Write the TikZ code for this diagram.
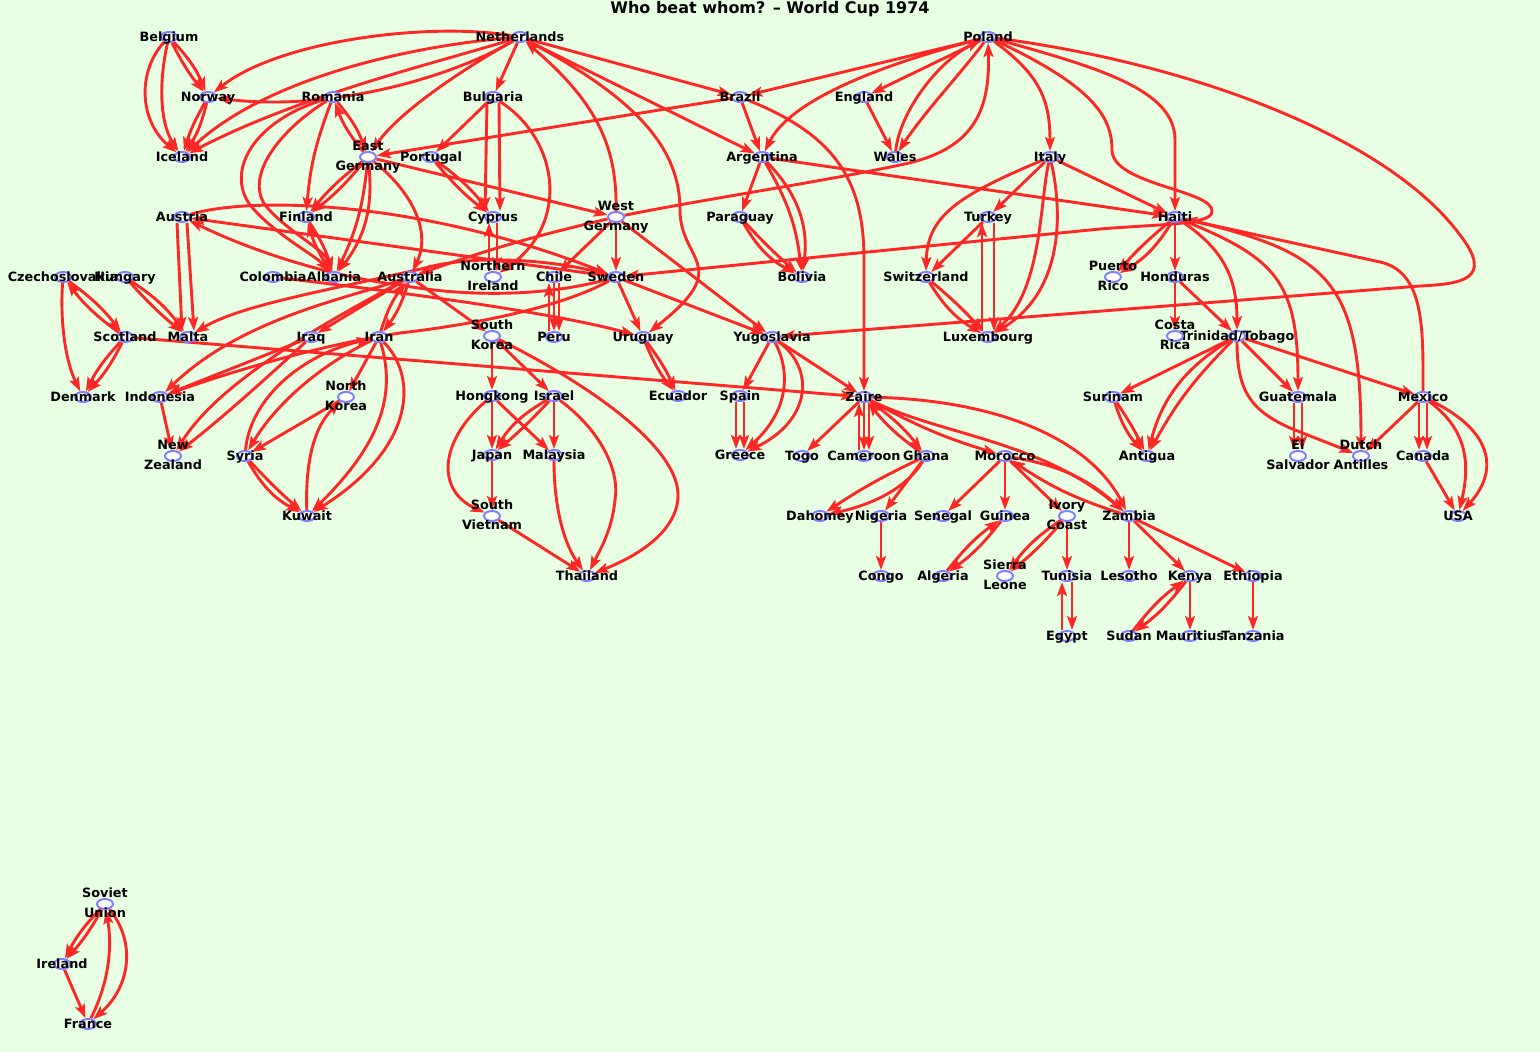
\documentclass[tikz,border=0pt]{standalone}
\usepackage{fontspec}
\setmainfont{DejaVu Sans}
\usetikzlibrary{shapes.geometric,arrows.meta}
\pgfdeclarelayer{bgl}
\pgfdeclarelayer{edges}
\pgfsetlayers{bgl,edges,main}
\definecolor{bgc}{RGB}{232,255,228}
\definecolor{ered}{RGB}{255,38,38}
\definecolor{nblue}{RGB}{128,128,255}
\newcommand\mkn[4]{\node[cnode] (#1) at (#2,#3) {}; \node[lbl] (#1l) at (#2,#3) {#4};}
\newcommand\mknn[5]{\node[cnode] (#1) at (#2,#3) {}; \node[lbl] (#1a) at (#2,{#3-11}) {#4}; \node[lbl] (#1b) at (#2,{#3+9}) {#5};}
\begin{document}
\begin{tikzpicture}[x=1pt,y=-1pt,
 cnode/.style={ellipse,draw=nblue,line width=2pt,fill=white,minimum width=16pt,minimum height=10pt,inner sep=0pt},
 lbl/.style={font=\bfseries\fontsize{12.8}{14}\selectfont,inner sep=0pt,text height=9.4pt,text depth=0pt},
 e/.style={draw=ered,line width=2.9pt,-{Stealth[length=14pt,width=10pt,inset=3pt]}}]
\useasboundingbox (0,0) rectangle (1540,1052);
\begin{pgfonlayer}{bgl}
\fill[bgc] (0,0) rectangle (1540,1052);
\end{pgfonlayer}
\node[font=\bfseries\fontsize{16}{18}\selectfont,inner sep=0pt] (title) at (770,9) {Who beat whom? – World Cup 1974};
% nodes
\mkn{Belgium}{169}{37}{Belgium}
\mkn{Netherlands}{520}{37}{Netherlands}
\mkn{Poland}{988}{37}{Poland}
\mkn{Norway}{208}{97}{Norway}
\mkn{Romania}{333}{97}{Romania}
\mkn{Bulgaria}{493}{97}{Bulgaria}
\mkn{Brazil}{740}{97}{Brazil}
\mkn{England}{864}{97}{England}
\mkn{Iceland}{182}{157}{Iceland}
\mknn{EastGermany}{368}{157}{East}{Germany}
\mkn{Portugal}{431}{157}{Portugal}
\mkn{Argentina}{762}{157}{Argentina}
\mkn{Wales}{895}{157}{Wales}
\mkn{Italy}{1050}{157}{Italy}
\mkn{Austria}{182}{217}{Austria}
\mkn{Finland}{306}{217}{Finland}
\mkn{Cyprus}{493}{217}{Cyprus}
\mknn{WestGermany}{616}{217}{West}{Germany}
\mkn{Paraguay}{740}{217}{Paraguay}
\mkn{Turkey}{988}{217}{Turkey}
\mkn{Haiti}{1175}{217}{Haiti}
\mkn{Czechoslovakia}{63}{277}{Czechoslovakia}
\mkn{Hungary}{125}{277}{Hungary}
\mkn{Colombia}{273}{277}{Colombia}
\mkn{Albania}{334}{277}{Albania}
\mkn{Australia}{410}{277}{Australia}
\mknn{NIreland}{493}{277}{Northern}{Ireland}
\mkn{Chile}{554}{277}{Chile}
\mkn{Sweden}{616}{277}{Sweden}
\mkn{Bolivia}{802}{277}{Bolivia}
\mkn{Switzerland}{926}{277}{Switzerland}
\mknn{PuertoRico}{1113}{277}{Puerto}{Rico}
\mkn{Honduras}{1175}{277}{Honduras}
\mkn{Scotland}{125}{337}{Scotland}
\mkn{Malta}{188}{337}{Malta}
\mkn{Iraq}{311}{337}{Iraq}
\mkn{Iran}{379}{337}{Iran}
\mknn{SouthKorea}{492}{336}{South}{Korea}
\mkn{Peru}{554}{337}{Peru}
\mkn{Uruguay}{643}{337}{Uruguay}
\mkn{Yugoslavia}{772}{337}{Yugoslavia}
\mkn{Luxembourg}{988}{337}{Luxembourg}
\mkn{TT}{1237}{336}{Trinidad/Tobago}
\mknn{CostaRica}{1175}{336}{Costa}{Rica}
\mkn{Denmark}{83}{397}{Denmark}
\mkn{Indonesia}{160}{397}{Indonesia}
\mknn{NorthKorea}{346}{397}{North}{Korea}
\mkn{Hongkong}{492}{396}{Hongkong}
\mkn{Israel}{554}{396}{Israel}
\mkn{Ecuador}{678}{396}{Ecuador}
\mkn{Spain}{740}{396}{Spain}
\mkn{Zaire}{864}{397}{Zaire}
\mkn{Surinam}{1113}{397}{Surinam}
\mkn{Guatemala}{1298}{397}{Guatemala}
\mkn{Mexico}{1423}{397}{Mexico}
\mknn{NewZealand}{173}{456}{New}{Zealand}
\mkn{Syria}{245}{456}{Syria}
\mkn{Japan}{492}{455}{Japan}
\mkn{Malaysia}{554}{455}{Malaysia}
\mkn{Greece}{740}{455}{Greece}
\mkn{Togo}{802}{456}{Togo}
\mkn{Cameroon}{864}{456}{Cameroon}
\mkn{Ghana}{926}{456}{Ghana}
\mkn{Morocco}{1005}{456}{Morocco}
\mkn{Antigua}{1147}{456}{Antigua}
\mknn{ElSalvador}{1298}{456}{El}{Salvador}
\mknn{DutchAntilles}{1361}{456}{Dutch}{Antilles}
\mkn{Canada}{1423}{456}{Canada}
\mkn{Kuwait}{307}{516}{Kuwait}
\mknn{SouthVietnam}{492}{516}{South}{Vietnam}
\mkn{Dahomey}{820}{516}{Dahomey}
\mkn{Nigeria}{881}{516}{Nigeria}
\mkn{Senegal}{943}{516}{Senegal}
\mkn{Guinea}{1005}{516}{Guinea}
\mknn{IvoryCoast}{1067}{516}{Ivory}{Coast}
\mkn{Zambia}{1129}{516}{Zambia}
\mkn{USA}{1458}{516}{USA}
\mkn{Thailand}{587}{576}{Thailand}
\mkn{Congo}{881}{576}{Congo}
\mkn{Algeria}{943}{576}{Algeria}
\mknn{SierraLeone}{1005}{576}{Sierra}{Leone}
\mkn{Tunisia}{1067}{576}{Tunisia}
\mkn{Lesotho}{1129}{576}{Lesotho}
\mkn{Kenya}{1190}{576}{Kenya}
\mkn{Ethiopia}{1253}{576}{Ethiopia}
\mkn{Egypt}{1067}{636}{Egypt}
\mkn{Sudan}{1129}{636}{Sudan}
\mkn{Mauritius}{1190}{636}{Mauritius}
\mkn{Tanzania}{1253}{636}{Tanzania}
\mknn{SovietUnion}{105}{904}{Soviet}{Union}
\mkn{Ireland}{62}{964}{Ireland}
\mkn{France}{88}{1024}{France}
\begin{pgfonlayer}{edges}
% Group 3
\draw[e] (Belgium) to[bend left=10] (Norway);
\draw[e] (Belgium) to[bend right=6] (Norway);
\draw[e] (Belgium) .. controls (138,70) and (138,120) .. (Iceland);
\draw[e] (Belgium) .. controls (160,75) and (158,120) .. (Iceland);
\draw[e] (Norway) to[bend left=10] (Iceland);
\draw[e] (Norway) to[bend right=6] (Iceland);
\draw[e] (Netherlands) .. controls (430,22) and (280,40) .. (Norway);
\draw[e] (Netherlands) .. controls (420,45) and (270,75) .. (Iceland);
\draw[e] (Netherlands) .. controls (440,62) and (300,95) .. (Iceland);
\draw[e] (Netherlands) .. controls (450,78) and (330,112) .. (Norway);
\draw[e] (Netherlands) -- (Bulgaria);
\draw[e] (Netherlands) .. controls (470,65) and (400,110) .. (EastGermany);
\draw[e] (Netherlands) -- (Brazil);
\draw[e] (Netherlands) -- (Argentina);
\draw[e] (Netherlands) .. controls (640,100) and (680,150) .. (680,210) .. controls (680,262) and (735,265) .. (Uruguay);
\draw[e] (WestGermany) .. controls (617,150) and (600,105) .. (Netherlands);
% Group 4
\draw[e] (Romania) to[bend left=10] (EastGermany);
\draw[e] (EastGermany) to[bend left=10] (Romania);
\draw[e] (Romania) to[bend right=8] (Finland);
\draw[e] (Romania) .. controls (255,120) and (225,170) .. (250,205) .. controls (275,235) and (315,255) .. (Albania);
\draw[e] (Romania) .. controls (280,130) and (245,175) .. (265,205) .. controls (285,230) and (325,250) .. (Albania);
\draw[e] (EastGermany) to[bend left=6] (Finland);
\draw[e] (EastGermany) to[bend right=6] (Finland);
\draw[e] (EastGermany) to[bend left=10] (Albania);
\draw[e] (EastGermany) to[bend left=22] (Albania);
\draw[e] (Finland) to[bend left=8] (Albania);
\draw[e] (Albania) to[bend left=8] (Finland);
% Group 6
\draw[e] (Bulgaria) -- (Portugal);
\draw[e] ([xshift=-6pt]Bulgaria.south) -- ([xshift=-8pt]Cyprus.north);
\draw[e] ([xshift=6pt]Bulgaria.south) -- ([xshift=7pt]Cyprus.north);
\draw[e] (Bulgaria) .. controls (560,140) and (570,225) .. (NIreland);
\draw[e] (Portugal) to[bend left=8] (Cyprus);
\draw[e] (Portugal) to[bend right=6] (Cyprus);
\draw[e] ([xshift=4pt]Cyprus.south) -- ([xshift=4pt]NIreland.north);
\draw[e] ([xshift=-4pt]NIreland.north) -- ([xshift=-4pt]Cyprus.south);
% World Cup finals
\draw[e] (Brazil) -- (EastGermany);
\draw[e] (Brazil) -- (Argentina);
\draw[e] (Brazil) .. controls (835,135) and (864,180) .. (864,260) -- (Zaire);
\draw[e] (Poland) -- (Brazil);
\draw[e] (Poland) .. controls (880,65) and (790,100) .. (Argentina);
\draw[e] (Poland) -- (England);
\draw[e] (England) -- (Wales);
\draw[e] (Wales) .. controls (900,110) and (940,60) .. (Poland);
\draw[e] (Poland) .. controls (962,72) and (922,115) .. (Wales);
\draw[e] (WestGermany) .. controls (700,200) and (820,182) .. (900,165) .. controls (975,150) and (990,110) .. (Poland);
\draw[e] (Poland) .. controls (1040,75) and (1050,100) .. (Italy);
\draw[e] (Poland) .. controls (1100,68) and (1175,90) .. (1175,140) -- (Haiti);
\draw[e] (Poland) .. controls (1090,85) and (1112,115) .. (1112,150) .. controls (1112,185) and (1215,190) .. (1212,212) .. controls (1210,225) and (1160,224) .. (1100,229) -- (Sweden);
\draw[e] (Poland) .. controls (1200,65) and (1390,140) .. (1460,235) .. controls (1495,280) and (1460,284) .. (1420,286) -- (Yugoslavia);
\draw[e] (Italy) -- (Haiti);
\draw[e] (Argentina) -- (Haiti);
\draw[e] (Argentina) to[bend left=12] (Bolivia);
\draw[e] (Argentina) to[bend left=26] (Bolivia);
\draw[e] (Argentina) -- (Paraguay);
\draw[e] (Paraguay) to[bend right=16] (Bolivia);
\draw[e] (Paraguay) to[bend right=3] (Bolivia);
% CONCACAF
\draw[e] (Mexico) .. controls (1423,330) and (1425,272) .. (1380,262) -- (Haiti);
\draw[e] (Haiti) to[bend right=4] (PuertoRico);
\draw[e] (Haiti) to[bend left=14] (PuertoRico);
\draw[e] (Haiti) -- (Honduras);
\draw[e] (Haiti) .. controls (1225,250) and (1237,280) .. (TT);
\draw[e] (Haiti) .. controls (1275,258) and (1298,280) .. (Guatemala);
\draw[e] (Haiti) .. controls (1330,252) and (1361,280) .. (DutchAntilles);
\draw[e] (Honduras) -- (CostaRica);
\draw[e] (Honduras) -- (TT);
\draw[e] (TT) -- (Surinam);
\draw[e] (TT) to[bend right=22] (Antigua);
\draw[e] (TT) to[bend right=8] (Antigua);
\draw[e] (Surinam) to[bend right=12] (Antigua);
\draw[e] (Surinam) to[bend left=4] (Antigua);
\draw[e] (TT) -- (Guatemala);
\draw[e] (TT) -- (Mexico);
\draw[e] (TT) .. controls (1237,390) and (1250,410) .. (1290,428) -- (DutchAntilles);
\draw[e] ([xshift=-4pt]Guatemala.south) -- ([xshift=-4pt]ElSalvador.north);
\draw[e] ([xshift=4pt]Guatemala.south) -- ([xshift=4pt]ElSalvador.north);
\draw[e] (Mexico) -- (DutchAntilles);
\draw[e] ([xshift=-4pt]Mexico.south) -- ([xshift=-4pt]Canada.north);
\draw[e] ([xshift=4pt]Mexico.south) -- ([xshift=4pt]Canada.north);
\draw[e] (Mexico) .. controls (1468,430) and (1470,465) .. (USA);
\draw[e] (Mexico) .. controls (1492,430) and (1500,470) .. (USA);
\draw[e] (Canada) -- (USA);
% UEFA group 1
\draw[e] (Hungary) to[bend left=10] (Malta);
\draw[e] (Hungary) to[bend right=4] (Malta);
\draw[e] ([xshift=-5pt]Austria.south) -- ([xshift=-6pt]Malta.north);
\draw[e] ([xshift=5pt]Austria.south) -- ([xshift=6pt]Malta.north);
\draw[e] (Austria) .. controls (250,196) and (420,200) .. (Sweden);
\draw[e] (Sweden) -- (Austria);
\draw[e] (Sweden) .. controls (540,298) and (460,296) .. (400,285) .. controls (340,278) and (260,255) .. (Austria);
\draw[e] (Sweden) .. controls (550,258) and (470,255) .. (425,268) .. controls (330,290) and (240,305) .. (Malta);
\draw[e] (Sweden) .. controls (560,308) and (470,325) .. (400,333) .. controls (320,345) and (230,372) .. (Indonesia);
% UEFA group 2
\draw[e] (Italy) -- (Turkey);
\draw[e] (Italy) .. controls (960,195) and (927,215) .. (Switzerland);
\draw[e] (Italy) .. controls (1040,200) and (1042,290) .. (Luxembourg);
\draw[e] (Italy) .. controls (1062,210) and (1065,290) .. (Luxembourg);
\draw[e] (Turkey) -- (Switzerland);
\draw[e] ([xshift=6pt]Turkey.south) -- ([xshift=6pt]Luxembourg.north);
\draw[e] ([xshift=-6pt]Luxembourg.north) -- ([xshift=-6pt]Turkey.south);
\draw[e] (Switzerland) to[bend right=14] (Luxembourg);
\draw[e] (Switzerland) to[bend left=4] (Luxembourg);
% UEFA group 7 and more finals
\draw[e] ([xshift=-4pt]Spain.south) -- ([xshift=-4pt]Greece.north);
\draw[e] ([xshift=4pt]Spain.south) -- ([xshift=4pt]Greece.north);
\draw[e] (Yugoslavia) .. controls (790,370) and (790,410) .. (Greece);
\draw[e] (Yugoslavia) .. controls (815,368) and (812,420) .. (Greece);
\draw[e] (Yugoslavia) -- (Spain);
\draw[e] (WestGermany) -- (Yugoslavia);
\draw[e] (Sweden) -- (Yugoslavia);
\draw[e] (Yugoslavia) -- (Zaire);
\draw[e] (Scotland) -- (Zaire);
% UEFA group 8
\draw[e] (Czechoslovakia) to[bend left=8] (Scotland);
\draw[e] (Scotland) to[bend left=8] (Czechoslovakia);
\draw[e] (Czechoslovakia) .. controls (60,320) and (65,360) .. (Denmark);
\draw[e] (Scotland) to[bend left=8] (Denmark);
\draw[e] (Scotland) to[bend right=8] (Denmark);
% UEFA group 9
\draw[e] (SovietUnion) to[bend right=8] (Ireland);
\draw[e] (SovietUnion) to[bend left=6] (Ireland);
\draw[e] (Ireland) -- (France);
\draw[e] (France) .. controls (110,980) and (112,945) .. (SovietUnion);
\draw[e] (SovietUnion) .. controls (135,940) and (132,985) .. (France);
% CONMEBOL
\draw[e] (Colombia) .. controls (400,292) and (550,312) .. (Uruguay);
\draw[e] ([xshift=-5pt]Peru.north) -- ([xshift=-5pt]Chile.south);
\draw[e] (Chile) -- (Peru);
\draw[e] ([xshift=5pt]Chile.south) -- ([xshift=5pt]Peru.north);
\draw[e] (Uruguay) to[bend left=6] (Ecuador);
\draw[e] (Uruguay) to[bend right=8] (Ecuador);
\draw[e] (Sweden) -- (Uruguay);
\draw[e] (WestGermany) -- (Chile);
\draw[e] (WestGermany) to[bend right=3] (Australia);
\draw[e] (EastGermany) -- (WestGermany);
\draw[e] (WestGermany) -- (Sweden);
\draw[e] (EastGermany) .. controls (410,190) and (432,230) .. (Australia);
% Asia / Oceania
\draw[e] (Australia) -- (Iraq);
\draw[e] (Australia) to[bend left=10] (Iran);
\draw[e] (Iran) to[bend left=10] (Australia);
\draw[e] (Australia) -- (SouthKorea);
\draw[e] (Australia) .. controls (340,300) and (240,320) .. (Indonesia);
\draw[e] (Australia) .. controls (330,320) and (220,380) .. (NewZealand);
\draw[e] (Iraq) -- (Indonesia);
\draw[e] (Iraq) .. controls (270,375) and (220,420) .. (NewZealand);
\draw[e] (Indonesia) -- (NewZealand);
\draw[e] (Iran) -- (NorthKorea);
\draw[e] (Iran) .. controls (395,390) and (385,440) .. (Kuwait);
\draw[e] (Iran) .. controls (420,380) and (412,450) .. (Kuwait);
\draw[e] (Iran) .. controls (320,365) and (275,405) .. (Syria);
\draw[e] (Syria) .. controls (250,400) and (300,355) .. (Iran);
\draw[e] (NorthKorea) -- (Syria);
\draw[e] (Kuwait) .. controls (305,460) and (315,425) .. (NorthKorea);
\draw[e] (Syria) to[bend right=16] (Kuwait);
\draw[e] (Syria) to[bend right=3] (Kuwait);
\draw[e] (SouthKorea) -- (Hongkong);
\draw[e] (SouthKorea) -- (Israel);
\draw[e] (SouthKorea) .. controls (600,390) and (678,450) .. (678,495) .. controls (678,530) and (640,555) .. (Thailand);
\draw[e] (Hongkong) -- (Japan);
\draw[e] (Hongkong) -- (Malaysia);
\draw[e] (Hongkong) .. controls (440,440) and (435,490) .. (SouthVietnam);
\draw[e] (Israel) to[bend right=14] (Japan);
\draw[e] (Israel) to[bend left=3] (Japan);
\draw[e] (Israel) -- (Malaysia);
\draw[e] (Israel) .. controls (600,430) and (620,470) .. (615,500) .. controls (612,530) and (600,550) .. (Thailand);
\draw[e] (Japan) -- (SouthVietnam);
\draw[e] (Malaysia) .. controls (554,510) and (565,545) .. (Thailand);
\draw[e] (SouthVietnam) -- (Thailand);
% CAF
\draw[e] (Zaire) -- (Togo);
\draw[e] ([xshift=-5pt]Cameroon.north) -- ([xshift=-5pt]Zaire.south);
\draw[e] (Zaire) -- (Cameroon);
\draw[e] ([xshift=5pt]Zaire.south) -- ([xshift=5pt]Cameroon.north);
\draw[e] (Zaire) to[bend left=8] (Ghana);
\draw[e] (Ghana) to[bend left=8] (Zaire);
\draw[e] (Zaire) to[bend right=6] (Morocco);
\draw[e] (Zaire) .. controls (1000,400) and (1090,440) .. (Zambia);
\draw[e] (Zaire) .. controls (940,435) and (1040,440) .. (Zambia);
\draw[e] (Morocco) to[bend left=16] (Zambia);
\draw[e] (Zambia) to[bend left=8] (Morocco);
\draw[e] (Morocco) -- (Senegal);
\draw[e] (Morocco) -- (Guinea);
\draw[e] (Morocco) -- (IvoryCoast);
\draw[e] (Ghana) to[bend right=4] (Dahomey);
\draw[e] (Ghana) .. controls (905,490) and (870,505) .. (Dahomey);
\draw[e] (Ghana) -- (Nigeria);
\draw[e] (Nigeria) -- (Congo);
\draw[e] (Guinea) to[bend left=8] (Algeria);
\draw[e] (Algeria) to[bend left=8] (Guinea);
\draw[e] (IvoryCoast) to[bend left=5] (SierraLeone);
\draw[e] (IvoryCoast) to[bend right=10] (SierraLeone);
\draw[e] (IvoryCoast) -- (Tunisia);
\draw[e] ([xshift=5pt]Tunisia.south) -- ([xshift=5pt]Egypt.north);
\draw[e] ([xshift=-5pt]Egypt.north) -- ([xshift=-5pt]Tunisia.south);
\draw[e] (Zambia) -- (Lesotho);
\draw[e] (Zambia) -- (Kenya);
\draw[e] (Zambia) -- (Ethiopia);
\draw[e] (Kenya) to[bend left=8] (Sudan);
\draw[e] (Sudan) to[bend left=8] (Kenya);
\draw[e] (Kenya) -- (Mauritius);
\draw[e] (Ethiopia) -- (Tanzania);
\end{pgfonlayer}
\end{tikzpicture}
\end{document}
